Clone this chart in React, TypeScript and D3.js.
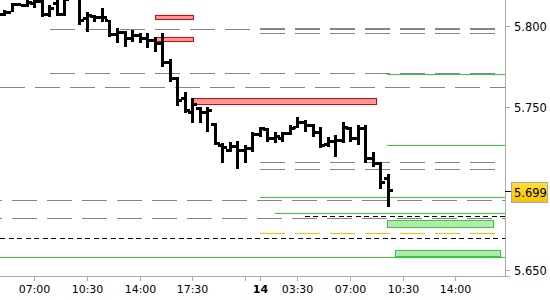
import React from "react";
import * as d3 from "d3";

// ---- Data (30-minute OHLC bars, index 0 = 05:00 day 1, session break 22:00-01:00) ----
const opens = [5.8074, 5.8086, 5.8135, 5.8129, 5.8141, 5.8154, 5.8074, 5.8141, 5.8074, 5.8178, 5.8221, 5.8049, 5.8062, 5.8055, 5.8037, 5.7951, 5.7963, 5.7926, 5.7945, 5.7926, 5.7914, 5.7895, 5.7779, 5.768, 5.7557, 5.7471, 5.7496, 5.7471, 5.7397, 5.7268, 5.7237, 5.7262, 5.7237, 5.725, 5.7336, 5.7367, 5.7311, 5.7311, 5.7342, 5.7379, 5.741, 5.7391, 5.7348, 5.7274, 5.7293, 5.7299, 5.7373, 5.7311, 5.7373, 5.7188, 5.7157, 5.7065];
const highs = [5.8098, 5.8143, 5.8141, 5.8172, 5.8178, 5.8191, 5.8129, 5.8185, 5.8178, 5.8314, 5.8252, 5.8088, 5.8068, 5.8109, 5.8037, 5.7986, 5.7969, 5.7975, 5.7955, 5.7955, 5.7934, 5.7957, 5.7797, 5.7686, 5.7596, 5.7555, 5.7504, 5.7502, 5.7405, 5.728, 5.7288, 5.7293, 5.7268, 5.735, 5.7381, 5.7371, 5.735, 5.735, 5.7391, 5.7442, 5.7422, 5.7397, 5.7381, 5.7319, 5.733, 5.7411, 5.7381, 5.7391, 5.7391, 5.7227, 5.7165, 5.709];
const lows = [5.8062, 5.8083, 5.8123, 5.8117, 5.8111, 5.8055, 5.8055, 5.8062, 5.8062, 5.8172, 5.8006, 5.7965, 5.8026, 5.8026, 5.7934, 5.7897, 5.7873, 5.7903, 5.7894, 5.7867, 5.7842, 5.775, 5.7656, 5.7508, 5.7465, 5.7405, 5.7402, 5.735, 5.7268, 5.7159, 5.7225, 5.7125, 5.7156, 5.7225, 5.7319, 5.7288, 5.7279, 5.7288, 5.733, 5.7371, 5.735, 5.7319, 5.7248, 5.7258, 5.7196, 5.7279, 5.7288, 5.7268, 5.7156, 5.7135, 5.7002, 5.6889];
const closes = [5.8086, 5.8135, 5.8129, 5.8148, 5.8154, 5.8074, 5.8111, 5.8074, 5.8166, 5.8252, 5.8037, 5.8068, 5.8055, 5.8055, 5.7951, 5.7963, 5.7926, 5.7945, 5.7926, 5.7914, 5.7895, 5.7779, 5.768, 5.7545, 5.7483, 5.752, 5.7471, 5.7483, 5.728, 5.7256, 5.7262, 5.7237, 5.725, 5.7336, 5.7373, 5.7311, 5.7324, 5.7342, 5.7373, 5.741, 5.7391, 5.7348, 5.7268, 5.7293, 5.7299, 5.7379, 5.7311, 5.7373, 5.7188, 5.7157, 5.7041, 5.699];

const currentPrice = 5.699;

// x-axis ticks (bar index) and labels
const xTickIdx = [4, 11, 18, 25, 32, 34, 39, 46, 53, 60];
const xTickLabels = ["07:00", "10:30", "14:00", "17:30", "", "14", "03:30", "07:00", "10:30", "14:00"];
const yTickValues = [5.65, 5.75, 5.8];

// Horizontal levels: [price, fromIndex, toIndex]
const grayLevels: [number, number, number][] = [
  [5.798, 6.1, 65.27],
  [5.7986, 34, 65.27],
  [5.7955, 34, 65.27],
  [5.7711, 6.1, 65.27],
  [5.7623, -0.56, 66.6],
  [5.7165, 34, 65.27],
  [5.7125, 34, 65.27],
  [5.6933, -3.58, 66.6],
  [5.6824, -3.58, 66.6],
];
const greenLevels: [number, number, number][] = [
  [5.7705, 50.9, 66.6],
  [5.7272, 50.94, 66.6],
  [5.6953, 34, 66.6],
  [5.6854, 36, 66.6],
  [5.6584, -0.56, 66.6],
];
const orangeLevels: [number, number, number][] = [[5.6731, 34, 65.27]];
const blackDashLevels: [number, number, number][] = [
  [5.6833, 40, 66.6],
  [5.67, -0.56, 66.6],
];
// Zones: [low, high, fromIndex, toIndex]
const redZones: [number, number, number, number][] = [
  [5.8041, 5.8066, 20.05, 25.1],
  [5.7906, 5.7931, 20.05, 25.1],
  [5.7522, 5.7555, 25.1, 49.4],
];
const greenZones: [number, number, number, number][] = [
  [5.6768, 5.6811, 50.94, 64.96],
  [5.6585, 5.6627, 52.0, 66.0],
];

const W = 550;
const H = 300;
const plotR = 505;
const plotB = 276;

export default function App() {
  const x = d3.scaleLinear().domain([-0.56, 66.6]).range([0, plotR]);
  const y = d3.scaleLinear().domain([5.65, 5.8]).range([270.3, 26]);
  const font = "DejaVu Sans, Verdana, sans-serif";

  const dashed = (lv: [number, number, number], key: string, stroke: string, dash: string) => {
    const yy = Math.round(y(lv[0])) + 0.5;
    return (
      <line key={key} x1={x(lv[1])} x2={x(lv[2])} y1={yy} y2={yy} stroke={stroke} strokeWidth={1} strokeDasharray={dash} shapeRendering="crispEdges" />
    );
  };
  const solid = (lv: [number, number, number], key: string, fill: string) => {
    const x1 = Math.round(x(lv[1]));
    const x2 = Math.round(x(lv[2]));
    return <rect key={key} x={x1} y={Math.round(y(lv[0]))} width={x2 - x1} height={1} fill={fill} />;
  };
  const zone = (z: [number, number, number, number], key: string, fill: string, stroke: string) => {
    const y1 = Math.round(y(z[1])) + 0.5;
    const y2 = Math.round(y(z[0])) + 0.5;
    const x1 = Math.round(x(z[2])) + 0.5;
    const x2 = Math.round(x(z[3])) + 0.5;
    return <rect key={key} x={x1} y={y1} width={x2 - x1} height={y2 - y1} fill={fill} stroke={stroke} strokeWidth={1} shapeRendering="crispEdges" />;
  };

  const py = Math.round(y(currentPrice));

  return (
    <svg width={W} height={H} style={{ position: "absolute", left: 0, top: 0, background: "#fff" }}>
      <defs>
        <clipPath id="plot">
          <rect x={0} y={0} width={plotR} height={plotB} />
        </clipPath>
        <linearGradient id="gold" x1="0" y1="0" x2="0" y2="1">
          <stop offset="0" stopColor="#ffe03a" />
          <stop offset="1" stopColor="#f5c400" />
        </linearGradient>
      </defs>
      <rect x={0} y={0} width={W} height={H} fill="#fff" />
      <g clipPath="url(#plot)">
        {grayLevels.map((lv, i) => dashed(lv, "g" + i, "#858585", "25 10"))}
        {orangeLevels.map((lv, i) => dashed(lv, "o" + i, "#ffb400", "25 10"))}
        {blackDashLevels.map((lv, i) => dashed(lv, "b" + i, "#000000", "5 3.5"))}
        {greenLevels.map((lv, i) => solid(lv, "s" + i, "#33cc33"))}
        {redZones.map((z, i) => zone(z, "r" + i, "#ff9a9a", "#e60000"))}
        {greenZones.map((z, i) => zone(z, "z" + i, "#b4e8b0", "#33cc33"))}
        {opens.map((o, i) => {
          const cx = Math.round(x(i));
          const yh = Math.round(y(highs[i]));
          const yl = Math.round(y(lows[i]));
          const yo = Math.round(y(o));
          const yc = Math.round(y(closes[i]));
          return (
            <g key={"bar" + i} fill="#000" shapeRendering="crispEdges">
              <rect x={cx - 1} y={yh} width={3} height={Math.max(2, yl - yh)} />
              <rect x={cx - 4} y={yo - 1} width={3} height={3} />
              <rect x={cx + 2} y={yc - 1} width={3} height={3} />
            </g>
          );
        })}
      </g>
      {/* axes */}
      <rect x={0} y={plotB} width={510} height={1} fill="#aaaaaa" />
      <rect x={plotR} y={0} width={1} height={plotB + 1} fill="#aaaaaa" />
      {xTickIdx.map((t, i) => {
        const tx = Math.round(x(t));
        return (
          <g key={"xt" + i}>
            <rect x={tx} y={plotB} width={1} height={5} fill="#aaaaaa" />
            <text x={tx + 0.5} y={293} textAnchor="middle" fontFamily={font} fontSize={11} fontWeight={xTickLabels[i] === "14" ? "bold" : "normal"} fill="#000">
              {xTickLabels[i]}
            </text>
          </g>
        );
      })}
      {yTickValues.map((v, i) => {
        const ty = Math.round(y(v));
        return (
          <g key={"yt" + i}>
            <rect x={plotR} y={ty} width={5} height={1} fill="#aaaaaa" />
            <text x={514} y={ty + 5} fontFamily={font} fontSize={11.5} fill="#000">
              {v.toFixed(3)}
            </text>
          </g>
        );
      })}
      {/* current price marker */}
      <rect x={plotR} y={py + 1} width={6} height={1} fill="#000" />
      <rect x={511.5} y={py - 7.5} width={36} height={20} fill="url(#gold)" stroke="#aaaaaa" strokeWidth={1} shapeRendering="crispEdges" />
      <text x={514} y={py + 7} fontFamily={font} fontSize={11.5} fill="#000">
        {currentPrice.toFixed(3)}
      </text>
    </svg>
  );
}
